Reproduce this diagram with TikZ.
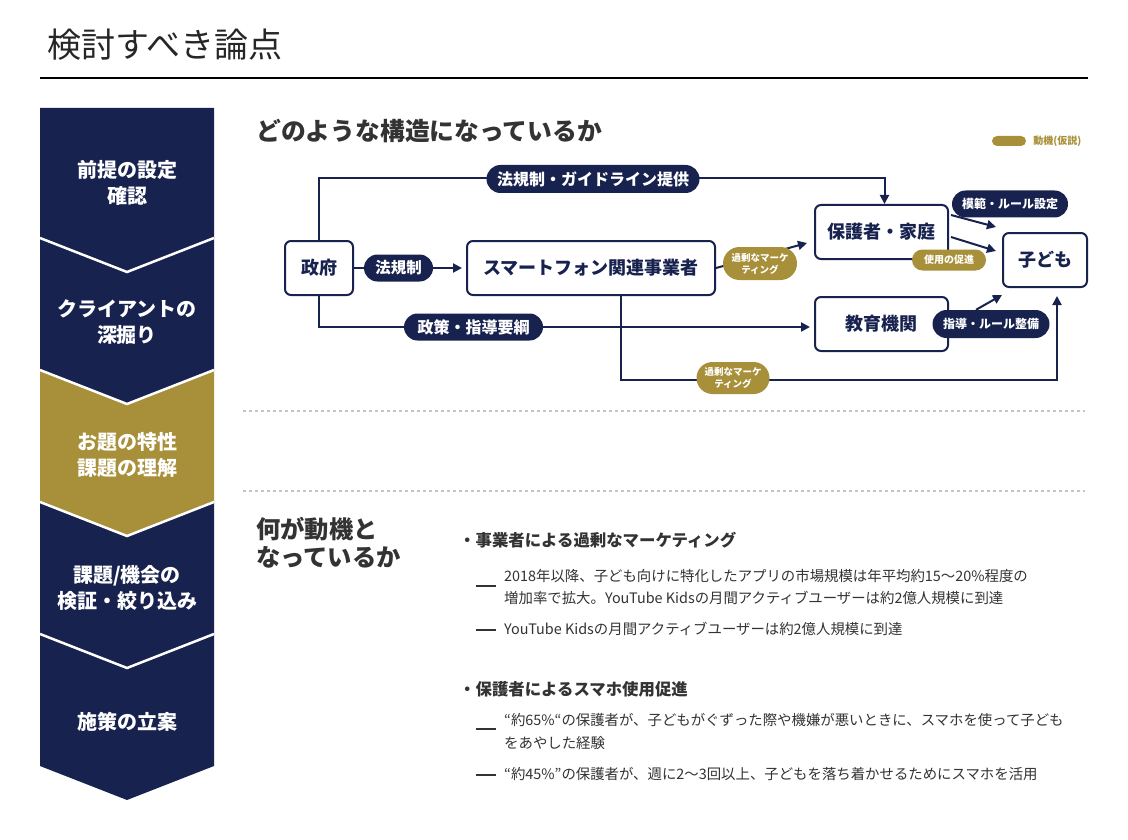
\documentclass[tikz,border=0pt]{standalone}
\usepackage{fontspec}
\setmainfont{Noto Sans CJK JP}
\usetikzlibrary{positioning,calc,arrows.meta,shapes.misc}
\definecolor{navy}{HTML}{17224F}
\definecolor{gold}{HTML}{A8903A}
\definecolor{ink}{HTML}{333333}
\definecolor{rulegray}{HTML}{C4C4C4}
\newcommand{\fs}[2]{\fontsize{#1}{#2}\selectfont}

\tikzset{
  actor/.style={draw=navy, line width=2pt, rounded corners=6pt, fill=white,
    text=navy, font=\fs{18}{22}\bfseries, inner sep=0pt},
  navpill/.style={rounded rectangle, fill=navy, text=white, inner sep=0pt},
  goldpill/.style={rounded rectangle, fill=gold, text=white, inner sep=0pt, align=center},
  flow/.style={draw=navy, line width=2pt, -{Triangle[length=9pt,width=9pt]}},
  stepname/.style={text=white, font=\fs{20}{26}\bfseries, align=center},
  dotsep/.style={draw=rulegray, line width=1.2pt, dash pattern=on 3pt off 3pt},
  bodytext/.style={anchor=west, text=ink, font=\fs{14.4}{22}, inner sep=0pt},
  bullethead/.style={anchor=west, text=ink, font=\fs{16.4}{20}\bfseries, inner sep=0pt},
  dashmark/.style={draw=ink, line width=2pt},
}

\begin{document}
\begin{tikzpicture}[x=1pt, y=-1pt]
  \useasboundingbox (0,0) rectangle (1128,840);
  \fill[white] (0,0) rectangle (1128,840);

  % title
  \node[anchor=west, font=\fs{34}{34}, text=black!85, inner sep=0pt] (title) at (47,45) {検討すべき論点};
  \draw[line width=2pt] (40,78) -- (1088,78);

  % left steps
  \foreach \i/\col in {0/navy,1/navy,2/gold,3/navy,4/navy} {
    \pgfmathsetmacro{\chvB}{238+132*\i}
    \pgfmathsetmacro{\chvT}{\i==0 ? 108 : 106+132*\i}
    \pgfmathsetmacro{\chvP}{\i==0 ? 108 : 140+132*\i}
    \fill[\col] (40,\chvT) -- (127,\chvP) -- (214,\chvT) -- (214,\chvB)
      -- (127,{\chvB+34}) -- (40,\chvB) -- cycle;
  }
  \foreach \i in {0,...,3}
    \draw[white, line width=2.5pt] (40,{238+132*\i}) -- (127,{272+132*\i}) -- (214,{238+132*\i});

  \node[stepname] (step1) at (127,183) {前提の設定\\確認};
  \node[stepname] (step2) at (127,322) {クライアントの\\深掘り};
  \node[stepname] (step3) at (127,455) {お題の特性\\課題の理解};
  \node[stepname] (step4) at (127,588) {課題/機会の\\検証・絞り込み};
  \node[stepname] (step5) at (127,722) {施策の立案};

  % structure
  \node[anchor=west, font=\fs{24.8}{24.8}\bfseries, text=ink, inner sep=0pt] (q1) at (256,131) {どのような構造になっているか};
  \node[goldpill, minimum width=34pt, minimum height=10pt] (legendkey) at (1009,141) {};
  \node[right=7pt of legendkey, text=gold, font=\fs{10}{10}\bfseries, inner sep=0pt] (legendtext) {動機(仮説)};

  \node[actor, minimum width=68pt, minimum height=54pt] (gov) at (319,268) {政府};
  \node[actor, minimum width=248pt, minimum height=54pt] (maker) at (591,268) {スマートフォン関連事業者};
  \node[actor, minimum width=133pt, minimum height=54pt] (home) at (881.5,232) {保護者・家庭};
  \node[actor, minimum width=84pt, minimum height=54pt] (kid) at (1045,260) {子ども};
  \node[actor, minimum width=133pt, minimum height=54pt] (school) at (881.5,324) {教育機関};

  \draw[flow] (gov.north) |- ([shift={(3,-26)}]home.north) -- ([xshift=3pt]home.north);
  \draw[flow, shorten >=4pt] (gov) -- (maker);
  \draw[flow, shorten >=4pt] (gov.south) |- ([shift={(0,3)}]school.west);
  \draw[flow] (maker.east) -- ([shift={(-7,-17)}]home.south west);
  \draw[flow] ([shift={(2,-17)}]home.east) -- ([shift={(-6,-5)}]kid.north west);
  \draw[flow] ([shift={(2,5)}]home.east) -- ([shift={(-6,-9)}]kid.west);
  \draw[flow] ([xshift=30pt]maker.south) |- ([shift={(12,92)}]kid.south) -- ([shift={(12,8)}]kid.south);

  \node[navpill, minimum width=213pt, minimum height=28pt, font=\fs{16}{16}\bfseries] (lawguide) at (593,179) {法規制・ガイドライン提供};
  \node[navpill, minimum width=69pt, minimum height=27pt, font=\fs{15.5}{15.5}\bfseries] (law) at (398.5,268) {法規制};
  \node[navpill, minimum width=139pt, minimum height=27pt, font=\fs{16}{16}\bfseries] (policy) at (473.5,327) {政策・指導要綱};
  \node[goldpill, minimum width=74pt, minimum height=33pt, font=\fs{9.5}{12}\bfseries] (hype1) at (760,263.5) {過剰なマーケ\\ティング};
  \node[navpill, minimum width=116pt, minimum height=27pt, font=\fs{12}{12}\bfseries] (model) at (1010,204) {模範・ルール設定};
  \node[goldpill, minimum width=74pt, minimum height=21pt, font=\fs{10}{10}\bfseries] (usage) at (949,260) {使用の促進};
  \node[navpill, minimum width=117pt, minimum height=28pt, font=\fs{12}{12}\bfseries] (guide) at (991,324) {指導・ルール整備};
  \node[goldpill, minimum width=73pt, minimum height=32pt, font=\fs{9.5}{12}\bfseries] (hype2) at (733,378) {過剰なマーケ\\ティング};
  \draw[flow] ([xshift=-15pt]guide.north) -- ([shift={(0,7)}]kid.south west);

  \draw[dotsep] (243,411) -- (1085,411);
  \draw[dotsep] (243,491) -- (1085,491);

  % motives
  \node[anchor=north west, align=left, font=\fs{24.3}{28}\bfseries, text=ink, inner sep=0pt] (q2) at (256,517) {何が動機と\\なっているか};

  \node[bullethead] (why1) at (459,540) {・事業者による過剰なマーケティング};
  \draw[dashmark] (476,586) -- (496,586);
  \node[bodytext] (fact1a) at (504,576) {2018年以降、子ども向けに特化したアプリの市場規模は年平均約15〜20\%程度の};
  \node[bodytext] (fact1b) at (504,598) {増加率で拡大。YouTube Kidsの月間アクティブユーザーは約2億人規模に到達};
  \draw[dashmark] (476,630) -- (496,630);
  \node[bodytext] (fact2) at (504,629) {YouTube Kidsの月間アクティブユーザーは約2億人規模に到達};

  \node[bullethead] (why2) at (459,689) {・保護者によるスマホ使用促進};
  \draw[dashmark] (476,729) -- (496,729);
  \node[bodytext] (fact3a) at (504,720) {“約65\%“の保護者が、子どもがぐずった際や機嫌が悪いときに、スマホを使って子ども};
  \node[bodytext] (fact3b) at (504,743) {をあやした経験};
  \draw[dashmark] (476,775) -- (496,775);
  \node[bodytext] (fact4) at (504,774) {“約45\%”の保護者が、週に2〜3回以上、子どもを落ち着かせるためにスマホを活用};
\end{tikzpicture}
\end{document}
